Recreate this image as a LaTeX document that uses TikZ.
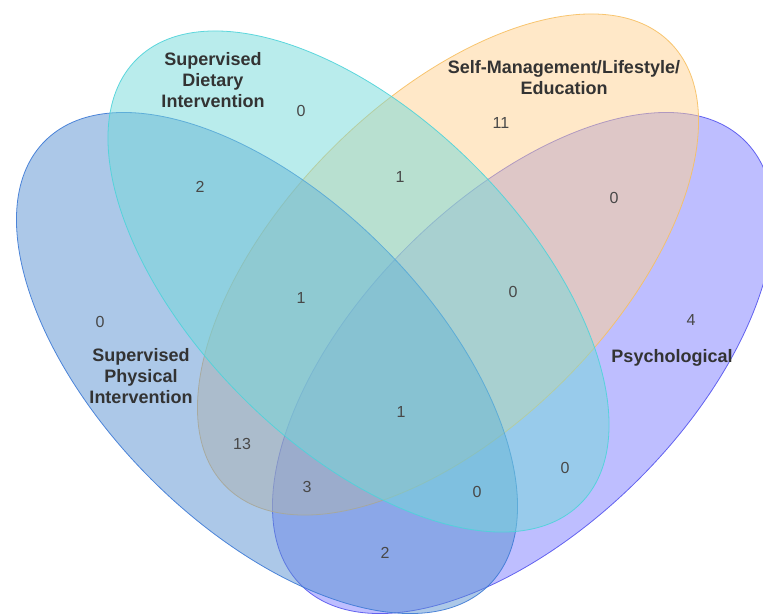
\documentclass[tikz,border=0pt]{standalone}
\usepackage{fontspec}
\setmainfont{Liberation Sans}
\definecolor{psyfill}{HTML}{7D7DFF}
\definecolor{psyline}{HTML}{5555EE}
\definecolor{selffill}{HTML}{FFD191}
\definecolor{selfline}{HTML}{F7C063}
\definecolor{physfill}{HTML}{5991D1}
\definecolor{physline}{HTML}{3D7AD6}
\definecolor{dietfill}{HTML}{73D9D9}
\definecolor{dietline}{HTML}{4FD3DA}
\definecolor{labcol}{HTML}{333333}
\definecolor{numcol}{HTML}{484848}
\begin{document}
\begin{tikzpicture}[x=1pt,y=-1pt,
  setshape/.style={fill opacity=0.5, draw opacity=0.9, line width=0.8pt},
  lab/.style={font=\fontsize{18}{21}\selectfont\bfseries, text=labcol, align=center, inner sep=0pt},
  num/.style={font=\fontsize{16}{19}\selectfont, text=numcol, inner sep=0pt}]
\useasboundingbox (0,0) rectangle (763,614);
\begin{scope}
\clip (0,0) rectangle (763,614);
% Psychological
\filldraw[setshape, fill=psyfill, draw=psyline, rotate around={45:(523,363)}]
  (523,363) ellipse [x radius=314, y radius=164];
% Self-Management
\filldraw[setshape, fill=selffill, draw=selfline, rotate around={45:(448,264.5)}]
  (448,264.5) ellipse [x radius=314, y radius=164];
% Supervised Physical
\filldraw[setshape, fill=physfill, draw=physline, rotate around={-45:(267,363)}]
  (267,363) ellipse [x radius=314, y radius=164];
% Supervised Dietary
\filldraw[setshape, fill=dietfill, draw=dietline, rotate around={-45:(358.5,281.5)}]
  (358.5,281.5) ellipse [x radius=314, y radius=164];
\end{scope}
% labels
\node[lab] (ldiet) at (213,80) {Supervised\\Dietary\\Intervention};
\node[lab] (lself) at (564,78) {Self-Management/Lifestyle/\\Education};
\node[lab] (lphys) at (141,376) {Supervised\\Physical\\Intervention};
\node[lab] (lpsy) at (672,358) {Psychological};
% counts
\node[num] (n1) at (301,111) {0};
\node[num] (n2) at (501,123) {11};
\node[num] (n3) at (200,187) {2};
\node[num] (n4) at (400,177) {1};
\node[num] (n5) at (614,198) {0};
\node[num] (n6) at (301,298) {1};
\node[num] (n7) at (513,292) {0};
\node[num] (n8) at (100,322) {0};
\node[num] (n9) at (691,320) {4};
\node[num] (n10) at (401,412) {1};
\node[num] (n11) at (242,444) {13};
\node[num] (n12) at (307,487) {3};
\node[num] (n13) at (477,492) {0};
\node[num] (n14) at (565,468) {0};
\node[num] (n15) at (385,553) {2};
\end{tikzpicture}
\end{document}
